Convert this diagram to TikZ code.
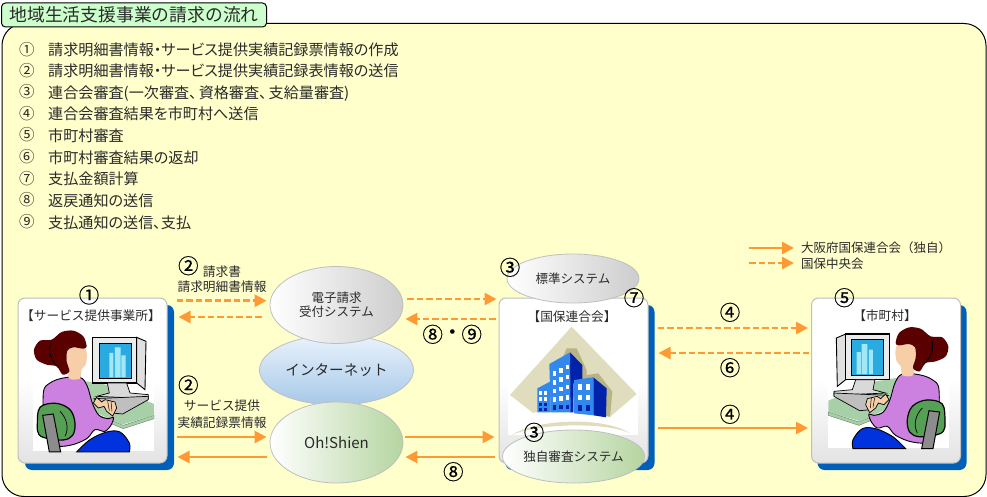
\documentclass[tikz,border=0pt]{standalone}
\usepackage{fontspec}
\setmainfont{Noto Sans CJK JP}
\newfontfamily\listfont{Noto Sans CJK JP}[CharacterWidth=AlternateProportional]
\newfontfamily\numfont{Noto Sans CJK JP}[FakeBold=0.5]
\usetikzlibrary{shapes.geometric,arrows.meta}
\definecolor{panelc}{HTML}{FFFFCC}
\definecolor{tabc}{HTML}{CCFFCC}
\definecolor{arrc}{HTML}{FF9933}
\definecolor{shadowc}{HTML}{0060B8}
\definecolor{inkc}{HTML}{2A2A2A}
\definecolor{deskc}{HTML}{A8D0A8}
\definecolor{skinc}{HTML}{F6CFA8}
\definecolor{hairc}{HTML}{5A0000}
\definecolor{bodyc}{HTML}{CC80E0}
\definecolor{chairc}{HTML}{55A055}
\definecolor{skirtc}{HTML}{0033DD}
\definecolor{screenc}{HTML}{29ABE2}
\definecolor{barc}{HTML}{A0E8F5}
\definecolor{tanc}{HTML}{E0DDBE}
\definecolor{tandc}{HTML}{B8B488}
\definecolor{bluec}{HTML}{3388EE}
\definecolor{bluedc}{HTML}{0022AA}
\definecolor{nettop}{HTML}{EAF3FC}
\definecolor{netbot}{HTML}{A6C8E8}
\definecolor{greenr}{HTML}{B5D5A0}
\definecolor{greyr}{HTML}{CDCDCD}
\newcommand{\womanart}{%
  \fill[white] (10,8) rectangle (372,370);
  % desk
  \filldraw[fill=deskc,draw=deskc!60!black,line width=.4pt] (190,265)--(280,302)--(372,272)--(372,262)--(280,292)--(190,255)--cycle;
  \fill[deskc] (140,155)--(240,172)--(372,228)--(372,262)--(275,290)--(190,250)--(150,220)--cycle;
  % monitor
  \filldraw[fill=black!12,draw=black,line width=.9pt] (320,28)--(348,40)--(345,185)--(320,165)--cycle;
  \filldraw[fill=black!8,draw=black,line width=1.3pt] (188,28) rectangle (320,165);
  \filldraw[fill=screenc,draw=black,line width=.9pt] (208,45) rectangle (303,152);
  \fill[barc] (238,75) rectangle (250,148) (255,58) rectangle (272,148) (274,82) rectangle (287,148);
  \filldraw[fill=black!15,draw=black,line width=.7pt] (232,165)--(290,165)--(300,195)--(355,200)--(355,212)--(200,205)--(238,195)--cycle;
  % keyboard
  \filldraw[fill=black!25,draw=black,line width=.7pt] (192,212)--(355,205)--(355,215)--(278,258)--(245,255)--cycle;
  % skirt
  \filldraw[fill=skirtc,draw=black,line width=.9pt] plot[smooth,tension=.6] coordinates {(140,372) (180,335) (230,312) (270,312) (298,345) (298,372)} -- cycle;
  % body
  \filldraw[fill=bodyc,draw=black,line width=.9pt] plot[smooth cycle,tension=.6] coordinates {(40,195) (60,165) (100,150) (150,148) (172,175) (187,225) (207,262) (235,272) (250,268) (245,288) (225,310) (195,305) (170,332) (120,352) (70,350) (45,300)};
  % face
  \fill[skinc] plot[smooth cycle,tension=.4] coordinates {(112,65) (130,58) (165,62) (171,82) (167,110) (155,124) (150,152) (118,152) (110,110)};
  % hair
  \fill[hairc] plot[smooth cycle,tension=.5] coordinates {(65,35) (95,12) (130,8) (160,25) (170,55) (160,62) (130,58) (112,68) (110,100) (118,130) (98,140) (80,115) (50,110) (20,95) (12,65) (30,38)};
  \draw[black,line width=.9pt] (62,45) .. controls (55,70) and (60,95) .. (85,118);
  % chair
  \filldraw[fill=chairc,draw=black,line width=1.2pt] plot[smooth cycle,tension=.6] coordinates {(22,290) (30,238) (78,226) (120,245) (135,285) (128,322) (100,336) (55,332) (27,320)};
  \draw[black,line width=.7pt] (90,250) .. controls (110,270) and (118,300) .. (105,325);
  \filldraw[fill=black!45,draw=black,line width=1pt] (38,262)--(70,258)--(92,372)--(58,372)--cycle;
  % hands
  \filldraw[fill=skinc,draw=black,line width=.7pt] (190,225)--(200,208)--(215,222)--(225,215)--(255,222)--(260,240)--(248,264)--(230,250)--(222,235)--(205,240)--cycle;
  \draw[black,line width=.5pt] (233,220)--(238,248) (243,220)--(246,250);
}
\newcommand{\buildingart}{%
  \fill[white] (10,5) rectangle (400,345);
  \fill[tanc] (200,20)--(395,222)--(310,295)--(105,295)--(15,225)--cycle;
  \fill[tandc] (185,85)--(215,85)--(245,150)--(245,165)--(280,160)--(322,215)--(315,292)--(225,292)--(170,120)--cycle;
  \fill[white] (85,278) .. controls (180,268) and (270,275) .. (345,300) -- (345,345) -- (40,345) -- (40,300) -- cycle;
  \fill[tanc] (20,345) .. controls (100,295) and (300,290) .. (375,340) .. controls (300,305) and (100,310) .. (20,345) -- cycle;
  % left tower
  \fill[bluec] (97,205)--(135,185)--(137,277)--(97,277)--cycle;
  % center tower
  \fill[bluedc] (195,97)--(232,135)--(232,178)--(205,190)--(205,277)--(195,277)--cycle;
  \fill[bluec] (133,132)--(195,97)--(197,277)--(137,277)--cycle;
  % right tower
  \fill[bluedc] (265,172)--(305,205)--(303,292)--(265,286)--cycle;
  \fill[bluec] (207,180)--(265,172)--(265,286)--(207,280)--cycle;
  \foreach \c/\d in {143/0,163/20,183/40}{
    \fill[white] (\c,{154-.5*\d}) rectangle +(10,14);
    \fill[white] (\c,{180-.4*\d}) rectangle +(10,14);
    \fill[white] (\c,{206-.3*\d}) rectangle +(10,14);
    \fill[white] (\c,{232-.15*\d}) rectangle +(10,14);
    \fill[bluedc] (\c,{256-.03*\d}) rectangle +(10,13);
  }
  \foreach \c in {103,118}{
    \fill[white] (\c,212) rectangle +(8,12);
    \fill[white] (\c,232) rectangle +(8,10);
    \fill[bluedc] (\c,249) rectangle +(8,9);
    \fill[bluedc] (\c,265) rectangle +(8,8);
  }
  \foreach \c in {220,243}{
    \fill[white] (\c,193) rectangle +(11,17);
    \fill[white] (\c,224) rectangle +(11,16);
    \fill[bluedc] (\c,256) rectangle +(11,16);
  }
}
\tikzset{
  panel/.style={draw=black,line width=1pt,fill=panelc,rounded corners=22pt,minimum width=984pt,minimum height=473pt,inner sep=0pt},
  tabbox/.style={draw=black,line width=1pt,fill=tabc,rounded corners=4pt,minimum width=265pt,minimum height=24pt,inner sep=0pt},
  card/.style={draw=black!25,line width=1pt,rounded corners=7pt,top color=white,bottom color=black!11,middle color=white,minimum width=149pt,minimum height=165pt,inner sep=0pt},
  cardshadow/.style={fill=shadowc,rounded corners=7pt,minimum width=149pt,minimum height=165pt,inner sep=0pt},
  greyoval/.style={ellipse,draw=black!25,line width=.8pt,left color=white,right color=greyr,inner sep=0pt,align=center,text=inkc},
  netoval/.style={ellipse,draw=black!25,line width=.8pt,top color=nettop,bottom color=netbot,inner sep=0pt,text=inkc},
  greenoval/.style={ellipse,draw=black!25,line width=.8pt,left color=white,right color=greenr,inner sep=0pt,align=center,text=inkc},
  listtext/.style={anchor=west,inner sep=0pt,text height=14pt,text depth=1pt,text=inkc,font=\listfont\fontsize{15.1}{17}\selectfont},
  listnum/.style={inner sep=0pt,text=inkc,font=\fontsize{15.5}{18}\selectfont},
  lab/.style={inner sep=0pt,text=inkc,font=\fontsize{12.7}{15}\selectfont},
  cnum/.style={inner sep=0pt,text=black,font=\numfont\fontsize{20.5}{22}\selectfont},
  solidarr/.style={draw=arrc,line width=2.6pt,-{Triangle[length=12pt,width=12pt]}},
  dasharr/.style={draw=arrc,line width=2.6pt,dash pattern=on 6.5pt off 3pt,-{Triangle[length=12pt,width=12pt]}},
}
\begin{document}
\begin{tikzpicture}[x=1pt,y=-1pt]
\useasboundingbox (0,0) rectangle (987,497);
\node[panel] (bg) at (494,260) {};
\node[tabbox,text=inkc,font=\fontsize{17.8}{20}\selectfont] (title) at (134,15) {地域生活支援事業の請求の流れ};
% list
\foreach \n/\t/\y in {①/請求明細書情報・サービス提供実績記録票情報の作成/49.5,
  ②/請求明細書情報・サービス提供実績記録表情報の送信/70.5,
  ③/連合会審査(一次審査、\hspace{2pt}資格審査、\hspace{2pt}支給量審査)/92,
  ④/連合会審査結果を市町村へ送信/113.5,
  ⑤/市町村審査/135,
  ⑥/市町村審査結果の返却/157,
  ⑦/支払金額計算/178.5,
  ⑧/返戻通知の送信/200,
  ⑨/支払通知の送信、支払/221.5}{
  \node[listnum] at (27,\y) {\n};
  \node[listtext] at (48,\y) {\t};
}
% cards
\node[cardshadow] (s1) at (99.5,387.5) {};
\node[card] (c1) at (92.5,380.5) {};
\node[cardshadow] (s3) at (580,387.5) {};
\node[card] (c3) at (573.5,380.5) {};
\node[cardshadow] (s5) at (892,387.5) {};
\node[card] (c5) at (886,380.5) {};
\begin{scope}[shift={(30,328)},x=.3333pt,y=-.3333pt]\womanart\end{scope}
\begin{scope}[shift={(952.3,324.7)},x=-.3333pt,y=-.3333pt]\womanart\end{scope}
\begin{scope}[shift={(505,320)},x=.3333pt,y=-.3333pt]\buildingart\end{scope}
\node[lab] (l1) at (91,316) {【サービス提供事業所】};
\node[lab] (l3) at (572,316.5) {【国保連合会】};
\node[lab] (l5) at (885,316) {【市町村】};
% ovals
\node[netoval,minimum width=154pt,minimum height=70pt,font=\fontsize{14.6}{17}\selectfont] (net) at (336.5,370) {インターネット};
\node[greyoval,minimum width=133pt,minimum height=77pt,font=\fontsize{12.5}{14.5}\selectfont] (den) at (336.5,305) {電子請求\\受付システム};
\node[greenoval,minimum width=133pt,minimum height=81pt,font=\fontsize{15}{17}\selectfont] (oh) at (336.5,442.5) {Oh!Shien};
\node[greyoval,minimum width=132pt,minimum height=49pt,font=\fontsize{12.5}{15}\selectfont] (std) at (573,278.5) {標準システム};
\node[greenoval,minimum width=133pt,minimum height=53pt,font=\fontsize{12.6}{15}\selectfont] (own) at (573.5,456.5) {独自審査システム};
% arrows
\draw[dasharr,shorten <=9pt,shorten >=3pt] (c1.east |- 0,300.7) -- (den.west |- 0,300.7);
\draw[dasharr,shorten <=8pt,shorten >=11pt] (den.west |- 0,317) -- (c1.east |- 0,317);
\draw[solidarr,shorten <=9pt,shorten >=3pt] (c1.east |- 0,437) -- (oh.west |- 0,437);
\draw[solidarr,shorten <=3pt,shorten >=10pt] (oh.west |- 0,457) -- (c1.east |- 0,457);
\draw[dasharr,shorten <=4pt,shorten >=2pt] (den.east |- 0,299) -- (c3.west |- 0,299);
\draw[dasharr,shorten <=3pt,shorten >=2pt] (c3.west |- 0,319) -- (den.east |- 0,319);
\draw[solidarr,shorten <=2pt,shorten >=4pt] (oh.east |- 0,437) -- (c3.west |- 0,437);
\draw[solidarr,shorten <=4pt,shorten >=2pt] (c3.west |- 0,457) -- (oh.east |- 0,457);
\draw[dasharr,shorten <=9pt,shorten >=3pt] (c3.east |- 0,328) -- (c5.west |- 0,328);
\draw[dasharr,shorten <=2pt,shorten >=10pt] (c5.west |- 0,353) -- (c3.east |- 0,353);
\draw[solidarr,shorten <=9pt,shorten >=3pt] (c3.east |- 0,428) -- (c5.west |- 0,428);
% legend
\coordinate (lg1a) at (749,248);
\coordinate (lg1b) at (794,248);
\coordinate (lg2a) at (749,263);
\coordinate (lg2b) at (794,263);
\draw[solidarr] (lg1a) -- (lg1b);
\draw[dasharr] (lg2a) -- (lg2b);
\node[lab,anchor=west,font=\fontsize{12.5}{15}\selectfont] (lgt1) at (801,248) {大阪府国保連合会（独自）};
\node[lab,anchor=west,font=\fontsize{12.5}{15}\selectfont] (lgt2) at (801,263.5) {国保中央会};
% labels
\node[lab] (t1) at (222,271.5) {請求書};
\node[lab] (t2) at (222,286.5) {請求明細書情報};
\node[lab] (t3) at (222,406) {サービス提供};
\node[lab] (t4) at (222,422.5) {実績記録票情報};
% circled numbers
\node[cnum] (n1) at (89,295) {①};
\node[cnum] (n2) at (188.3,265.7) {②};
\node[cnum] (n3) at (188.3,385) {②};
\node[cnum] (n4) at (510,267.3) {③};
\node[cnum] (n5) at (634,297.7) {⑦};
\node[cnum] (n6) at (432.7,334.3) {⑧};
\node[cnum] (n7) at (452.3,334.3) {・};
\node[cnum] (n8) at (471.7,334.3) {⑨};
\node[cnum] (n9) at (534,432.3) {③};
\node[cnum] (n10) at (453.3,471.7) {⑧};
\node[cnum] (n11) at (844.3,297.7) {⑤};
\node[cnum] (n12) at (730,312.3) {④};
\node[cnum] (n13) at (730,367.7) {⑥};
\node[cnum] (n14) at (730,414.3) {④};
\end{tikzpicture}
\end{document}
